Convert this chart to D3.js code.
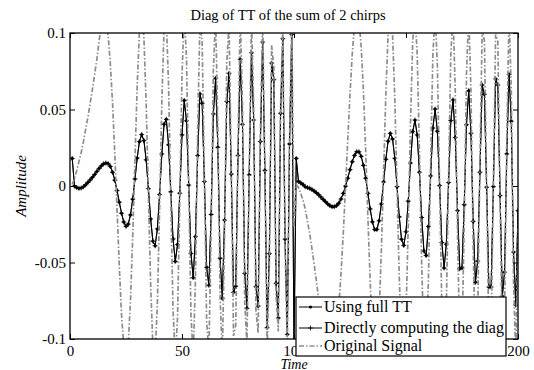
<!DOCTYPE html>
<html>
<head>
<meta charset="utf-8">
<script src="https://cdn.jsdelivr.net/npm/d3@7"></script>
<style>
  body { margin: 0; background: #fff; }
  svg text { font-family: "Liberation Serif", "Times New Roman", serif !important; fill: #000; }
</style>
</head>
<body>
<div id="chart"></div>
<script>
// diag of TT, computed from the full TT (samples 1..200)
const fullTT = [
  .018, .000, -.001, -.0015, -.0013, -.0005, .0008, .0024, .004, .0057,
  .0075, .0095, .0115, .0132, .0145, .015, .0146, .0128, .009, .0038,
  -.003, -.0106, -.0178, -.0235, -.0263, -.0249, -.0189, -.0086, .0046, .0183,
  .029, .0336, .0297, .0171, -.0017, -.0215, -.036, -.0391, -.0281, -.0056,
  .0209, .0404, .0436, .0269, -.0038, -.0346, -.0493, -.0382, -.0047, .0334,
  .0559, .0426, .0006, -.0441, -.0599, -.0331, .0199, .0602, .0541, .0029,
  -.0531, -.0649, -.0186, .0471, .0704, .0253, -.0472, -.0734, -.0223, .0552,
  .0736, .0078, -.0695, -.0655, .0199, .0828, .0403, -.0571, -.0799, .0073,
  .0871, .0431, -.0658, -.0785, .0291, .0941, .0102, -.0926, -.0442, .0803,
  .0695, -.0636, -.0862, .0475, .0963, -.0347, -.097, .0275, .099, -.105,
  .018, .003, .002, .001, -.0005, -.001, -.0015, -.0023, -.0033, -.0044,
  -.0057, -.0072, -.0087, -.0102, -.0116, -.0128, -.0135, -.0135, -.0128, -.0112,
  -.0085, -.0048, -.0001, .0051, .0107, .0159, .02, .0224, .0223, .0194,
  .0135, .0051, -.0048, -.015, -.0235, -.0285, -.0284, -.0227, -.0117, .0027,
  .0175, .0293, .0344, .0307, .0181, -.0004, -.0201, -.0348, -.0388, -.0299,
  -.0099, .015, .0355, .0431, .0334, .009, -.0206, -.0424, -.0454, -.0264,
  .0066, .0379, .0503, .0358, .0003, -.0369, -.0536, -.038, .0023, .0428,
  .0563, .0317, -.0161, -.0541, -.0535, -.0122, .04, .0623, .0344, -.0231,
  -.0629, -.0491, .009, .066, .06, -.0008, -.066, -.066, -.0004, .07,
  .066, -.0062, -.072, -.0563, .021, .073, .0424, -.0432, -.0778, -.0161
];

// diag computed directly
const directDiag = [
  .018, .000, -.001, -.0015, -.0013, -.0005, .0008, .0024, .004, .0057,
  .0075, .0095, .0115, .0132, .0145, .015, .0146, .0128, .009, .0038,
  -.003, -.0106, -.0178, -.0235, -.0263, -.0249, -.0189, -.0086, .0046, .0183,
  .029, .0336, .0297, .0171, -.0017, -.0215, -.036, -.0391, -.0281, -.0056,
  .0209, .0404, .0436, .0269, -.0038, -.0346, -.0493, -.0382, -.0047, .0334,
  .0559, .0426, .0006, -.0441, -.0599, -.0331, .0199, .0602, .0541, .0029,
  -.0531, -.0649, -.0186, .0471, .0704, .0253, -.0472, -.0734, -.0223, .0552,
  .0736, .0078, -.0695, -.0655, .0199, .0828, .0403, -.0571, -.0799, .0073,
  .0871, .0431, -.0658, -.0785, .0291, .0941, .0102, -.0926, -.0442, .0803,
  .0695, -.0636, -.0862, .0475, .0963, -.0347, -.097, .0275, .099, -.105,
  .018, .003, .002, .001, -.0005, -.001, -.0015, -.0023, -.0033, -.0044,
  -.0057, -.0072, -.0087, -.0102, -.0116, -.0128, -.0135, -.0135, -.0128, -.0112,
  -.0085, -.0048, -.0001, .0051, .0107, .0159, .02, .0224, .0223, .0194,
  .0135, .0051, -.0048, -.015, -.0235, -.0285, -.0284, -.0227, -.0117, .0027,
  .0175, .0293, .0344, .0307, .0181, -.0004, -.0201, -.0348, -.0388, -.0299,
  -.0099, .015, .0355, .0431, .0334, .009, -.0206, -.0424, -.0454, -.0264,
  .0066, .0379, .0503, .0358, .0003, -.0369, -.0536, -.038, .0023, .0428,
  .0563, .0317, -.0161, -.0541, -.0535, -.0122, .04, .0623, .0344, -.0231,
  -.0629, -.0491, .009, .066, .06, -.0008, -.066, -.066, -.0004, .07,
  .066, -.0062, -.072, -.0563, .021, .073, .0424, -.0432, -.0778, -.0161
];

// original signal (goes past the axis limits, gets clipped)
const originalSignal = [
  .001, .005, .010, .016, .022, .029, .037, .045, .054, .063,
  .073, .083, .095, .105, .112, .110, .099, .080, .054, .021,
  -.015, -.052, -.084, -.105, -.113, -.103, -.075, -.033, .017, .066,
  .101, .113, .097, .054, -.005, -.064, -.105, -.111, -.077, -.015,
  .055, .104, .109, .066, -.009, -.081, -.113, -.086, -.010, .072,
  .113, .084, .001, -.084, -.112, -.061, .036, .107, .094, .005,
  -.089, -.108, -.030, .076, .111, .039, -.072, -.111, -.033, .081,
  .106, .011, -.098, -.091, .027, .112, .054, -.075, -.104, .009,
  .110, .054, -.081, -.096, .035, .112, .012, -.108, -.051, .092,
  .078, -.071, -.095, .052, .104, -.037, -.108, .029, .110, -.027,
  .001, -.001, -.005, -.009, -.015, -.023, -.031, -.041, -.051, -.062,
  -.074, -.085, -.095, -.103, -.110, -.113, -.112, -.106, -.095, -.079,
  -.057, -.031, -.001, .030, .060, .086, .105, .113, .109, .091,
  .062, .023, -.021, -.062, -.095, -.112, -.109, -.084, -.042, .009,
  .060, .099, .113, .099, .057, -.001, -.060, -.102, -.112, -.084,
  -.027, .041, .095, .113, .086, .023, -.051, -.103, -.109, -.062,
  .015, .086, .113, .079, .001, -.079, -.113, -.079, .005, .086,
  .112, .062, -.031, -.103, -.101, -.023, .073, .113, .062, -.041,
  -.110, -.085, .015, .102, .095, -.001, -.098, -.098, -.001, .099,
  .095, -.009, -.105, -.085, .031, .112, .062, -.062, -.111, -.023
];

const xTicks = [0, 50, 100, 150, 200];
const yTicks = [-0.1, -0.05, 0, 0.05, 0.1];
const yTickLabels = ["-0.1", "-0.05", "0", "0.05", "0.1"];
const seriesNames = ["Using full TT", "Directly computing the diag", "Original Signal"];

const serif = '"Liberation Serif", "Times New Roman", serif';
const W = 534, H = 370;
const margin = { top: 33, right: 16, bottom: 31, left: 70 };
const width = W - margin.left - margin.right;
const height = H - margin.top - margin.bottom;

const svg = d3.select("#chart").append("svg")
  .attr("width", W)
  .attr("height", H)
  .attr("font-family", serif);

const g = svg.append("g")
  .attr("transform", `translate(${margin.left},${margin.top})`);

const x = d3.scaleLinear().domain([0, 200]).range([0, width]);
const y = d3.scaleLinear().domain([-0.1, 0.1]).range([height, 0]);

g.append("clipPath").attr("id", "plot-clip")
  .append("rect").attr("width", width).attr("height", height);

const line = d3.line()
  .x((d, i) => x(i + 1))
  .y(d => y(d));

const plot = g.append("g").attr("clip-path", "url(#plot-clip)");

// full TT: solid black with dots
plot.append("path")
  .datum(fullTT)
  .attr("d", line)
  .attr("fill", "none")
  .attr("stroke", "#000")
  .attr("stroke-width", 1.1);

plot.selectAll(".dot")
  .data(fullTT)
  .enter().append("circle")
  .attr("class", "dot")
  .attr("cx", (d, i) => x(i + 1))
  .attr("cy", d => y(d))
  .attr("r", 1.6)
  .attr("fill", "#000");

// direct diag: solid black with plus markers
plot.append("path")
  .datum(directDiag)
  .attr("d", line)
  .attr("fill", "none")
  .attr("stroke", "#000")
  .attr("stroke-width", 0.8);

plot.selectAll(".plus")
  .data(directDiag)
  .enter().append("path")
  .attr("class", "plus")
  .attr("d", (d, i) => {
    const px = x(i + 1), py = y(d);
    return `M${px - 2.5},${py}H${px + 2.5}M${px},${py - 2.5}V${py + 2.5}`;
  })
  .attr("stroke", "#000")
  .attr("stroke-width", 0.8);

// original signal: gray dash-dot, drawn last
plot.append("path")
  .datum(originalSignal)
  .attr("d", line)
  .attr("fill", "none")
  .attr("stroke", "#8c8c8c")
  .attr("stroke-width", 1.7)
  .attr("stroke-dasharray", "5,2,1.5,2");

// axes, ticks pointing inward on all four sides
const axisStyle = sel => {
  sel.attr("font-family", serif).attr("font-size", 15);
  sel.select(".domain").remove();
  sel.selectAll("line").attr("stroke", "#000");
  sel.selectAll("text").style("font-family", serif).style("font-size", "15px");
};

g.append("g")
  .attr("transform", `translate(0,${height})`)
  .call(d3.axisBottom(x).tickValues(xTicks).tickSize(-5).tickPadding(6))
  .call(axisStyle);

g.append("g")
  .call(d3.axisTop(x).tickValues(xTicks).tickSize(-5).tickFormat(""))
  .call(axisStyle);

g.append("g")
  .call(d3.axisLeft(y).tickValues(yTicks).tickSize(-5).tickPadding(4)
    .tickFormat((d, i) => yTickLabels[i]))
  .call(axisStyle);

g.append("g")
  .attr("transform", `translate(${width},0)`)
  .call(d3.axisRight(y).tickValues(yTicks).tickSize(-5).tickFormat(""))
  .call(axisStyle);

g.append("rect")
  .attr("width", width)
  .attr("height", height)
  .attr("fill", "none")
  .attr("stroke", "#000")
  .attr("stroke-width", 1.3);

// title and axis labels
svg.append("text")
  .attr("x", 288)
  .attr("y", 20)
  .attr("text-anchor", "middle")
  .style("font-size", "14.5px")
  .text("Diag of TT of the sum of 2 chirps");

svg.append("text")
  .attr("x", margin.left + width / 2)
  .attr("y", 368.5)
  .attr("text-anchor", "middle")
  .style("font-size", "14px")
  .style("font-style", "italic")
  .text("Time");

svg.append("text")
  .attr("transform", `translate(26,${margin.top + height / 2}) rotate(-90)`)
  .attr("text-anchor", "middle")
  .style("font-size", "15px")
  .style("font-style", "italic")
  .text("Amplitude");

// legend
const legend = svg.append("g").attr("transform", "translate(296,297)");

legend.append("rect")
  .attr("width", 210)
  .attr("height", 59)
  .attr("fill", "#fff")
  .attr("stroke", "#000")
  .attr("stroke-width", 1.2);

const rowY = [10, 31, 49];

seriesNames.forEach((name, i) => {
  const ly = rowY[i];
  const item = legend.append("g");
  const ln = item.append("line")
    .attr("x1", 3).attr("x2", 26)
    .attr("y1", ly).attr("y2", ly);
  if (i < 2) {
    ln.attr("stroke", "#000").attr("stroke-width", 1);
  } else {
    ln.attr("stroke", "#8c8c8c").attr("stroke-width", 1.7)
      .attr("stroke-dasharray", "5,2,1.5,2");
  }
  if (i === 0) {
    item.append("circle").attr("cx", 14.5).attr("cy", ly).attr("r", 1.6).attr("fill", "#000");
  } else if (i === 1) {
    item.append("path")
      .attr("d", `M12,${ly}H17M14.5,${ly - 2.5}V${ly + 2.5}`)
      .attr("stroke", "#000").attr("stroke-width", 0.8);
  }
  item.append("text")
    .attr("x", 28)
    .attr("y", ly + 5)
    .style("font-size", "16px")
    .text(name);
});
</script>
</body>
</html>
